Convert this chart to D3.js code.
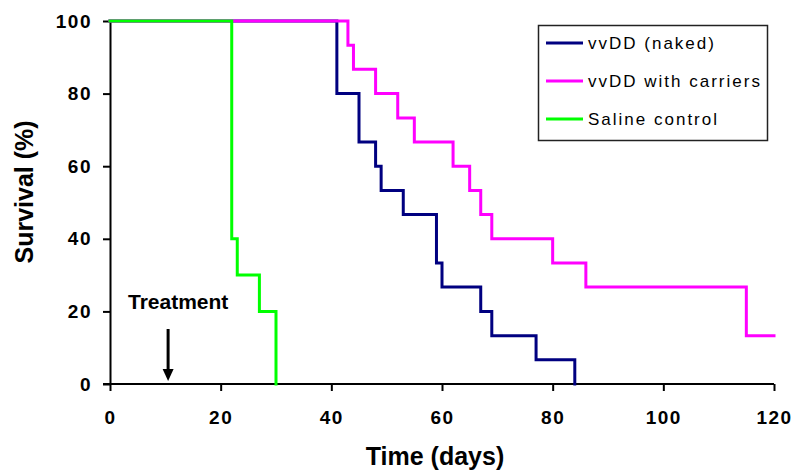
<!DOCTYPE html>
<html><head><meta charset="utf-8">
<script src="https://cdn.jsdelivr.net/npm/d3@7"></script>
<style>body{margin:0;background:#fff}svg{display:block}</style>
</head><body>
<svg id="c" width="800" height="475"></svg>
<script>
const seriesNames = ["vvDD (naked)", "vvDD with carriers", "Saline control"];
const seriesColors = ["#000080", "#ff00ff", "#00ff00"];
const nakedDays = [0, 41, 45, 48, 49, 53, 59, 60, 67, 69, 77, 84];
const nakedSurv = [100, 80, 66.7, 60, 53.3, 46.7, 33.3, 26.7, 20, 13.3, 6.7, 0];
const carrierDays = [0, 43, 44, 48, 52, 55, 62, 65, 67, 69, 80, 86, 115, 120];
const carrierSurv = [100, 93.3, 86.7, 80, 73.3, 66.7, 60, 53.3, 46.7, 40, 33.3, 26.7, 13.3, 13.3];
const salineDays = [0, 22, 23, 27, 30];
const salineSurv = [100, 40, 30, 20, 0];
const xTicks = [0, 20, 40, 60, 80, 100, 120];
const yTicks = [0, 20, 40, 60, 80, 100];
const treatmentDay = 10.5;

const svg = d3.select("#c");
const x = d3.scaleLinear().domain([0, 120]).range([110, 774]);
const y = d3.scaleLinear().domain([0, 100]).range([384, 21]);

const font = "Arial, 'Liberation Sans', sans-serif";

const xAxis = svg.append("g").attr("transform", "translate(0,384)")
  .call(d3.axisBottom(x).tickValues(xTicks).tickSize(7).tickPadding(20).tickSizeOuter(0));
const yAxis = svg.append("g").attr("transform", "translate(110,0)")
  .call(d3.axisLeft(y).tickValues(yTicks).tickSize(7).tickPadding(11).tickSizeOuter(0));
[xAxis, yAxis].forEach(g => {
  g.selectAll("path,line").attr("stroke", "#000").attr("stroke-width", 2);
  g.selectAll("text").attr("font-family", font).attr("font-weight", "bold")
    .attr("font-size", 19).attr("fill", "#000").style("letter-spacing", "1.5px");
});
xAxis.select(".domain").attr("d", "M103,0H774");

const data = [
  nakedDays.map((d, i) => [d, nakedSurv[i]]),
  carrierDays.map((d, i) => [d, carrierSurv[i]]),
  salineDays.map((d, i) => [d, salineSurv[i]])
];
const line = d3.line().x(d => x(d[0])).y(d => y(d[1])).curve(d3.curveStepAfter);
data.forEach((s, i) => {
  svg.append("path").attr("d", line(s)).attr("fill", "none")
    .attr("stroke", seriesColors[i]).attr("stroke-width", 3).attr("stroke-linejoin", "miter").attr("stroke-linecap", "square");
});

// Axis titles
svg.append("text").attr("transform", "translate(33,192) rotate(-90)")
  .attr("text-anchor", "middle").attr("font-family", font).attr("font-weight", "bold")
  .attr("font-size", 25).text("Survival (%)");
svg.append("text").attr("x", 435).attr("y", 465)
  .attr("text-anchor", "middle").attr("font-family", font).attr("font-weight", "bold")
  .attr("font-size", 25).text("Time (days)");

// Treatment annotation
svg.append("text").attr("x", 128).attr("y", 309).attr("font-family", font)
  .attr("font-weight", "bold").attr("font-size", 21).text("Treatment");
const ax = x(treatmentDay);
svg.append("line").attr("x1", ax).attr("x2", ax).attr("y1", 329).attr("y2", 371)
  .attr("stroke", "#000").attr("stroke-width", 3);
svg.append("path").attr("d", `M${ax-5.5},369L${ax+5.5},369L${ax},381Z`).attr("fill", "#000");

// Legend
const lg = svg.append("g");
lg.append("rect").attr("x", 538.5).attr("y", 25.5).attr("width", 229).attr("height", 115)
  .attr("fill", "#fff").attr("stroke", "#222").attr("stroke-width", 1.5);
seriesNames.forEach((n, i) => {
  const yy = 43 + i * 38;
  lg.append("line").attr("x1", 546).attr("x2", 583).attr("y1", yy).attr("y2", yy)
    .attr("stroke", seriesColors[i]).attr("stroke-width", 3);
  lg.append("text").attr("x", 588).attr("y", yy + 6).attr("font-family", font)
    .attr("font-size", 17).style("letter-spacing", "2px").attr("fill", "#000").text(n);
});
</script>
</body></html>
